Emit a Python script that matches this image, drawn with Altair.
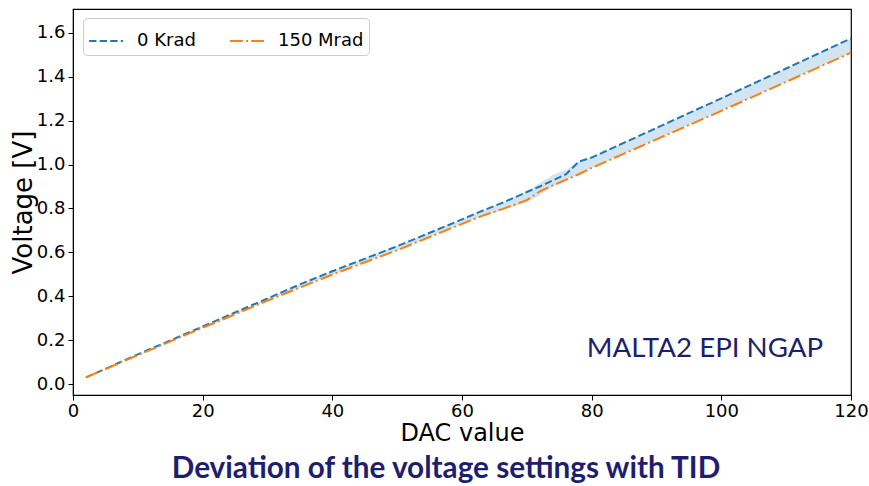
import altair as alt
import pandas as pd

dac = [2, 10, 20, 30, 35, 40, 50, 60, 63, 66, 70, 72, 74, 76, 78, 80, 90, 100, 110, 120]
v_0krad = [0.030, 0.135, 0.262, 0.390, 0.454, 0.514, 0.628, 0.750, 0.788, 0.823,
           0.875, 0.900, 0.928, 0.955, 1.013, 1.032, 1.167, 1.302, 1.438, 1.575]
v_150mrad = [0.030, 0.132, 0.256, 0.380, 0.440, 0.499, 0.610, 0.730, 0.765, 0.795,
             0.838, 0.878, 0.905, 0.930, 0.956, 0.985, 1.115, 1.245, 1.377, 1.510]
band_hi = [0.030, 0.135, 0.262, 0.390, 0.454, 0.514, 0.628, 0.750, 0.788, 0.823,
           0.878, 0.915, 0.952, 0.975, 1.013, 1.032, 1.167, 1.302, 1.438, 1.575]
band_lo = [0.030, 0.132, 0.256, 0.380, 0.440, 0.499, 0.610, 0.730, 0.765, 0.790,
           0.828, 0.860, 0.900, 0.930, 0.956, 0.985, 1.115, 1.245, 1.377, 1.510]
series = ["0 Krad", "150 Mrad"]
colors = ["#1f77b4", "#ff7f0e"]
dashes = [[7.4, 3.2], [12.8, 3.2, 2, 3.2]]

lines = pd.DataFrame(
    [{"dac": x, "v": y, "series": series[0]} for x, y in zip(dac, v_0krad)]
    + [{"dac": x, "v": y, "series": series[1]} for x, y in zip(dac, v_150mrad)]
)
band = pd.DataFrame({"dac": dac, "hi": band_hi, "lo": band_lo})

xscale = alt.Scale(domain=[0, 120], nice=False, zero=False)
yscale = alt.Scale(domain=[-0.05, 1.709], nice=False, zero=False)

xaxis = alt.Axis(values=[0, 20, 40, 60, 80, 100, 120], title="DAC value", grid=False,
                 labelFont="DejaVu Sans", labelFontSize=18, labelColor="black",
                 titleFont="DejaVu Sans", titleFontSize=24, titleFontWeight="normal",
                 titleColor="black", tickColor="black", tickSize=5, domainColor="black",
                 labelPadding=2, titlePadding=1, labelFlush=False)
yaxis = alt.Axis(values=[0.0, 0.2, 0.4, 0.6, 0.8, 1.0, 1.2, 1.4, 1.6], format=".1f",
                 title="Voltage [V]", grid=False,
                 labelFont="DejaVu Sans", labelFontSize=18, labelColor="black",
                 titleFont="DejaVu Sans", titleFontSize=26, titleFontWeight="normal",
                 titleColor="black", tickColor="black", tickSize=5, domainColor="black",
                 labelPadding=3, titlePadding=0, labelFlush=False)

area = alt.Chart(band).mark_area(color="#1f77b4", opacity=0.2).encode(
    x=alt.X("dac:Q", scale=xscale, axis=xaxis),
    y=alt.Y("hi:Q", scale=yscale, axis=yaxis),
    y2="lo:Q",
)

line = alt.Chart(lines).mark_line(strokeWidth=2).encode(
    x=alt.X("dac:Q", scale=xscale),
    y=alt.Y("v:Q", scale=yscale),
    color=alt.Color("series:N", scale=alt.Scale(domain=series, range=colors),
                    legend=alt.Legend(title=None, orient="none", legendX=10, legendY=9,
                                      direction="horizontal", symbolType="stroke",
                                      symbolSize=1150, symbolStrokeWidth=2,
                                      labelFont="DejaVu Sans", labelFontSize=18,
                                      labelColor="black", labelOffset=13,
                                      columnPadding=30, padding=5,
                                      fillColor="white", strokeColor="#cccccc",
                                      cornerRadius=4)),
    strokeDash=alt.StrokeDash("series:N", scale=alt.Scale(domain=series, range=dashes),
                              legend=None),
)

label = alt.Chart(pd.DataFrame({"t": ["MALTA2 EPI NGAP"]})).mark_text(
    font="Lato", fontSize=27.7, color="#1e1e6e", align="center", baseline="middle"
).encode(text="t:N", x=alt.value(632), y=alt.value(340))

chart = alt.layer(area, line, label).properties(
    width=778, height=386,
    autosize=alt.AutoSizeParams(type="none"),
    padding={"left": 73, "top": 9, "right": 18, "bottom": 91},
    background="white",
    title=alt.TitleParams("Deviation of the voltage settings with TID", orient="bottom",
                          anchor="middle", font="Lato", fontSize=29.7, fontWeight="bold",
                          color="#1e1e6e", offset=10, dx=-16),
).configure_view(stroke="black", strokeWidth=1.2)

chart.save("out.html", embed_options={"renderer": "svg", "actions": False})
